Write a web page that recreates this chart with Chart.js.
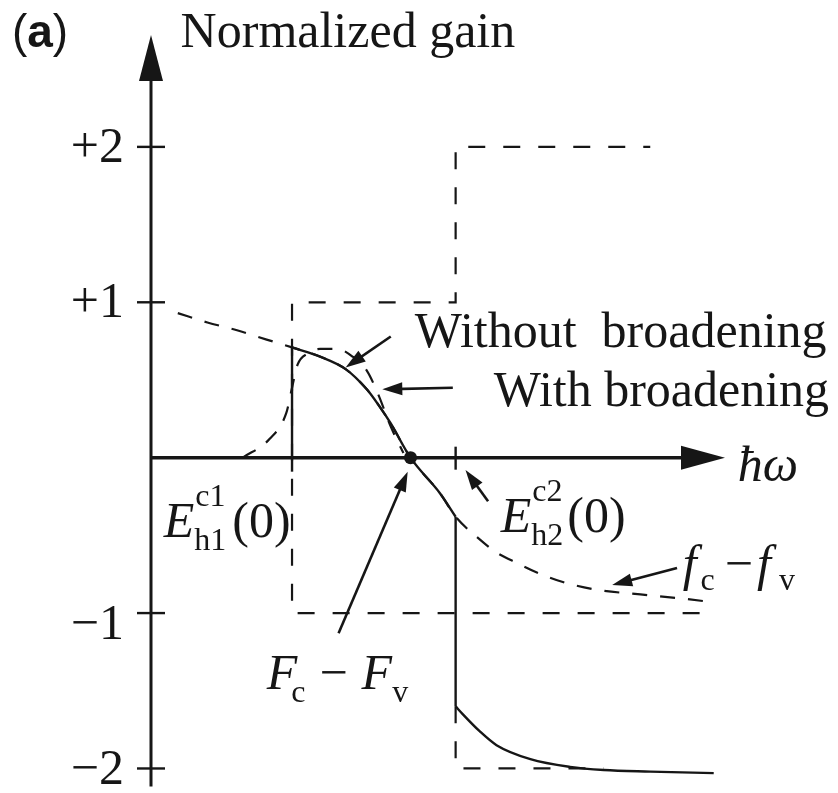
<!DOCTYPE html>
<html>
<head>
<meta charset="utf-8">
<title>Normalized gain</title>
<script src="https://cdn.jsdelivr.net/npm/chart.js@4.4.1/dist/chart.umd.min.js"></script>
<style>
  html, body { margin: 0; padding: 0; background: #ffffff; }
  #wrap { width: 838px; height: 793px; }
</style>
</head>
<body>
<div id="wrap"><canvas id="gainChart" width="838" height="793"></canvas></div>
<script>
// Subband edges and quasi-Fermi level separation (photon energy, arbitrary units)
const E1 = 1.00;          // E_h1^c1(0)
const E2 = 2.16;          // E_h2^c2(0)
const F_SEP = 1.84;       // F_c - F_v, where the gain changes sign

// Fermi factor f_c - f_v
const fcfvX = [0.19, 0.40, 0.61, 0.82, 1.00, 1.20, 1.38, 1.53, 1.62, 1.70, 1.84, 2.05, 2.16,
               2.31, 2.45, 2.60, 2.74, 2.92, 3.16, 3.47, 3.80, 3.98];
const fcfvY = [0.93, 0.87, 0.82, 0.76, 0.71, 0.65, 0.57, 0.44, 0.33, 0.22, 0.00, -0.23, -0.38,
               -0.51, -0.61, -0.68, -0.74, -0.80, -0.85, -0.88, -0.91, -0.93];

// Gain with broadening around the first subband edge
const broadX = [0.65, 0.84, 0.96, 1.00, 1.04, 1.11, 1.20, 1.32, 1.43, 1.53, 1.61, 1.70, 1.79];
const broadY = [0.00, 0.12, 0.29, 0.45, 0.60, 0.67, 0.70, 0.70, 0.65, 0.56, 0.41, 0.20, 0.03];

// Gain without broadening beyond the second subband edge
const lowX = [2.16, 2.21, 2.33, 2.45, 2.69, 2.97, 3.21, 3.54, 3.99];
const lowY = [-1.60, -1.65, -1.76, -1.85, -1.94, -1.99, -2.01, -2.02, -2.03];

// Step-like density of states (upper: +1, +2 ; lower: -1, -2)
const stepX = [3.89, E1, E1, E2, E2, 3.54];
const stepY = [-1, -1, 1, 1, 2, 2];
const step2X = [E2, E2, 3.21];
const step2Y = [-1.60, -2, -2];

// Vertical axis ticks
const yTickValues = [2, 1, -1, -2];
const yTickLabels = ['+2', '+1', '\u22121', '\u22122'];

const INK = '#161616';
const SERIF = '"Liberation Serif", "Times New Roman", serif';
const SANS = '"Liberation Sans", Arial, sans-serif';

const pts = (xs, ys) => xs.map((x, i) => ({ x: x, y: ys[i] }));

// Without broadening: f_c - f_v between the two edges, vertical jumps at each edge
const between = fcfvX.map((x, i) => ({ x: x, y: fcfvY[i] })).filter(p => p.x >= E1 && p.x <= E2);
const fAtE1 = between[0].y;
const fAtE2 = between[between.length - 1].y;

const solid = { borderColor: INK, borderWidth: 2.4, pointRadius: 0, showLine: true, fill: false };
const dashedCurve = { borderColor: INK, borderWidth: 2.2, pointRadius: 0, showLine: true, fill: false, borderDash: [15, 13] };
const dashedStep = { borderColor: INK, borderWidth: 2.2, pointRadius: 0, showLine: true, fill: false, borderDash: [17, 18], tension: 0 };

const datasets = [
  Object.assign({ label: 'DOS', data: pts(stepX, stepY) }, dashedStep),
  Object.assign({ label: 'DOS2', data: pts(step2X, step2Y) }, dashedStep),
  Object.assign({ label: 'fc-fv', data: pts(fcfvX, fcfvY), cubicInterpolationMode: 'monotone' }, dashedCurve),
  Object.assign({ label: 'with broadening', data: pts(broadX, broadY), cubicInterpolationMode: 'monotone' }, dashedCurve),
  Object.assign({ label: 'edge1', data: [{ x: E1, y: 0 }, { x: E1, y: fAtE1 }], tension: 0 }, solid),
  Object.assign({ label: 'without broadening', data: between, cubicInterpolationMode: 'monotone' }, solid),
  Object.assign({ label: 'edge2', data: [{ x: E2, y: fAtE2 }, { x: E2, y: lowY[0] }], tension: 0 }, solid),
  Object.assign({ label: 'without broadening 2', data: pts(lowX, lowY), cubicInterpolationMode: 'monotone' }, solid),
  { label: 'F', data: [{ x: F_SEP, y: 0 }], showLine: false, pointRadius: 6.5,
    pointBackgroundColor: INK, pointBorderColor: INK, borderWidth: 0 }
];

// Annotation arrows, in data coordinates: from tail to tip
const arrows = [
  { from: [1.70, 0.78], to: [1.38, 0.58] },
  { from: [2.14, 0.45], to: [1.64, 0.44] },
  { from: [1.33, -1.13], to: [1.82, -0.09] },
  { from: [2.39, -0.28], to: [2.23, -0.08] },
  { from: [3.73, -0.71], to: [3.27, -0.82] }
];

function fillArrowHead(ctx, x0, y0, x1, y1, len, half) {
  const a = Math.atan2(y1 - y0, x1 - x0);
  const bx = x1 - len * Math.cos(a), by = y1 - len * Math.sin(a);
  ctx.beginPath();
  ctx.moveTo(x1, y1);
  ctx.lineTo(bx + half * Math.sin(a), by - half * Math.cos(a));
  ctx.lineTo(bx - half * Math.sin(a), by + half * Math.cos(a));
  ctx.closePath();
  ctx.fill();
}

function serif(italic, size) { return (italic ? 'italic ' : '') + size + 'px ' + SERIF; }

// Draws a sequence of text parts; parts with sub/sup stack both indices at one x
function drawMath(ctx, x, y, parts) {
  let cx = x;
  for (const p of parts) {
    if (p.sub !== undefined || p.sup !== undefined) {
      ctx.font = serif(false, 32);
      let w = 0;
      if (p.sup) { ctx.fillText(p.sup, cx + 1, y - 31); w = Math.max(w, ctx.measureText(p.sup).width + 1); }
      if (p.sub) { ctx.fillText(p.sub, cx, y + (p.subDy || 13)); w = Math.max(w, ctx.measureText(p.sub).width); }
      cx += w + (p.gap || 2);
    } else {
      ctx.font = serif(!!p.i, p.size || 50);
      ctx.fillText(p.t, cx, y);
      cx += ctx.measureText(p.t).width + (p.gap || 0);
    }
  }
}

const figurePlugin = {
  id: 'figure',
  beforeDatasetsDraw(chart) {
    const { ctx, chartArea } = chart;
    const xs = chart.scales.x, ys = chart.scales.y;
    const ox = xs.getPixelForValue(0), oy = ys.getPixelForValue(0);
    ctx.save();
    ctx.strokeStyle = INK; ctx.fillStyle = INK; ctx.lineCap = 'butt';

    // vertical axis with arrow
    ctx.lineWidth = 3;
    ctx.beginPath(); ctx.moveTo(ox, chartArea.bottom); ctx.lineTo(ox, chartArea.top + 30); ctx.stroke();
    fillArrowHead(ctx, ox, chartArea.bottom, ox, chartArea.top, 46, 12);

    // horizontal axis with arrow
    ctx.lineWidth = 3.4;
    ctx.beginPath(); ctx.moveTo(ox, oy); ctx.lineTo(chartArea.right - 30, oy); ctx.stroke();
    fillArrowHead(ctx, ox, oy, chartArea.right, oy, 44, 12);

    // vertical ticks and labels
    ctx.lineWidth = 2.4;
    ctx.font = serif(false, 50);
    ctx.textAlign = 'right';
    ctx.textBaseline = 'middle';
    yTickValues.forEach((v, i) => {
      const py = ys.getPixelForValue(v);
      ctx.beginPath(); ctx.moveTo(ox - 14, py); ctx.lineTo(ox + 14, py); ctx.stroke();
      const nudge = v === -1 ? 13 : 2;
      ctx.fillText(yTickLabels[i], ox - 27, py + nudge);
    });

    // ticks at the subband edges
    const e1 = xs.getPixelForValue(E1), e2 = xs.getPixelForValue(E2);
    ctx.beginPath(); ctx.moveTo(e1, oy); ctx.lineTo(e1, oy + 14); ctx.stroke();
    ctx.beginPath(); ctx.moveTo(e2, oy - 11); ctx.lineTo(e2, oy + 12); ctx.stroke();
    ctx.restore();
  },
  afterDatasetsDraw(chart) {
    const { ctx } = chart;
    const xs = chart.scales.x, ys = chart.scales.y;
    const P = (x, y) => [xs.getPixelForValue(x), ys.getPixelForValue(y)];
    ctx.save();
    ctx.strokeStyle = INK; ctx.fillStyle = INK;

    // annotation arrows
    ctx.lineWidth = 2.6;
    arrows.forEach(a => {
      const [x0, y0] = P(a.from[0], a.from[1]);
      const [x1, y1] = P(a.to[0], a.to[1]);
      const ang = Math.atan2(y1 - y0, x1 - x0);
      ctx.beginPath(); ctx.moveTo(x0, y0); ctx.lineTo(x1 - 10 * Math.cos(ang), y1 - 10 * Math.sin(ang)); ctx.stroke();
      fillArrowHead(ctx, x0, y0, x1, y1, 20, 6.5);
    });

    ctx.textAlign = 'left';
    ctx.textBaseline = 'alphabetic';

    // panel tag
    let [tx, ty] = P(-0.986, 2.64);
    ctx.font = '46px ' + SANS; ctx.fillText('(', tx, ty);
    tx += ctx.measureText('(').width;
    ctx.font = 'bold 46px ' + SANS; ctx.fillText('a', tx, ty);
    tx += ctx.measureText('a').width;
    ctx.font = '46px ' + SANS; ctx.fillText(')', tx, ty);

    // axis titles
    ctx.font = serif(false, 50);
    [tx, ty] = P(0.21, 2.64); ctx.fillText('Normalized gain', tx, ty);
    [tx, ty] = P(4.16, -0.15); drawMath(ctx, tx, ty, [{ t: '\u0127\u03C9', i: true }]);

    // curve labels
    ctx.font = serif(false, 50);
    [tx, ty] = P(1.87, 0.71); ctx.fillText('Without  broadening', tx, ty);
    [tx, ty] = P(2.43, 0.33); ctx.fillText('With broadening', tx, ty);

    [tx, ty] = P(0.09, -0.51);
    drawMath(ctx, tx, ty, [{ t: 'E', i: true }, { sub: 'h1', sup: 'c1', gap: 6 }, { t: '(0)' }]);
    [tx, ty] = P(2.48, -0.48);
    drawMath(ctx, tx, ty, [{ t: 'E', i: true }, { sub: 'h2', sup: 'c2', gap: 4 }, { t: '(0)' }]);
    [tx, ty] = P(0.82, -1.49);
    drawMath(ctx, tx, ty, [{ t: 'F', i: true, gap: -6 }, { sub: 'c', gap: 14 }, { t: '\u2212', gap: 14 }, { t: 'F', i: true, gap: 0 }, { sub: 'v' }]);
    [tx, ty] = P(3.77, -0.79);
    drawMath(ctx, tx, ty, [{ t: 'f', i: true, gap: 4 }, { sub: 'c', gap: 10, subDy: 10 }, { t: '\u2212', gap: 4 }, { t: 'f', i: true, gap: 8 }, { sub: 'v', subDy: 10 }]);
    ctx.restore();
  }
};

new Chart(document.getElementById('gainChart'), {
  type: 'scatter',
  data: { datasets: datasets },
  options: {
    responsive: false,
    devicePixelRatio: 1,
    animation: false,
    layout: { padding: { left: 151, top: 35, right: 113, bottom: 6 } },
    plugins: { legend: { display: false }, tooltip: { enabled: false } },
    elements: { line: { borderCapStyle: 'butt' } },
    scales: {
      x: { type: 'linear', min: 0, max: 4.07, display: false },
      y: { type: 'linear', min: -2.116, max: 2.72, display: false }
    }
  },
  plugins: [figurePlugin]
});
</script>
</body>
</html>
